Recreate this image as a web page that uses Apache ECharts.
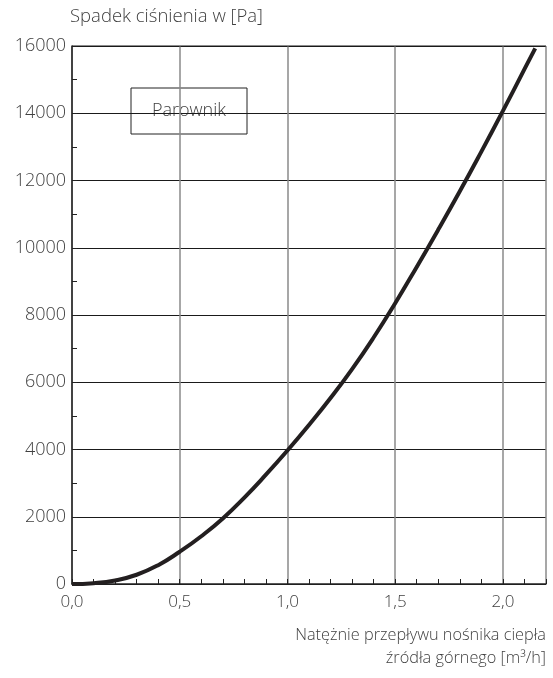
<!DOCTYPE html>
<html style="height: 100%">
<head>
    <meta charset="UTF-8">
    <script src="https://cdn.jsdelivr.net/npm/echarts@6/dist/echarts.min.js"></script>
</head>
<body style="height: 100%; margin: 0; background: #fff">
    <div id="main" style="width: 553px; height: 678px;"></div>
    <script type="text/javascript">
        // przepływ [m3/h] i spadek ciśnienia [Pa]
        var flow = [0, 0.1, 0.2, 0.3, 0.4, 0.5, 0.6, 0.7, 0.8, 0.9, 1.0, 1.1, 1.2, 1.3, 1.4, 1.5, 1.6, 1.7, 1.8, 1.9, 2.0, 2.1, 2.15];
        var pressureDrop = [0, 25, 105, 275, 560, 960, 1420, 1950, 2570, 3250, 3970, 4730, 5530, 6390, 7330, 8350, 9430, 10540, 11680, 12860, 14070, 15310, 15930];
        var yTicks = ['0', '2000', '4000', '6000', '8000', '10000', '12000', '14000', '16000'];
        var xTicks = ['0,0', '0,5', '1,0', '1,5', '2,0'];

        var yTitle = 'Spadek ciśnienia w [Pa]';
        var xTitle = ['Natężnie przepływu nośnika ciepła', 'źródła górnego [m³/h]'];
        var boxLabel = 'Parownik';

        var font = '"Open Sans", "Noto Sans", sans-serif';
        var textColor = '#404040';

        var myChart = echarts.init(document.getElementById('main'));

        var points = flow.map(function (x, i) { return [x, pressureDrop[i]]; });

        var option = {
            backgroundColor: '#fff',
            animation: false,
            grid: { left: 72, right: 7, top: 46, bottom: 94, containLabel: false },
            xAxis: [{
                type: 'value', min: 0, max: 2.2, interval: 0.5,
                axisLine: { show: true, lineStyle: { color: '#222', width: 1.5 } },
                axisTick: { show: false },
                axisLabel: {
                    margin: 10, fontSize: 17, color: textColor, fontFamily: font, fontWeight: 300,
                    showMaxLabel: false,
                    formatter: function (v) {
                        var k = Math.round(v / 0.5);
                        return Math.abs(v - k * 0.5) < 1e-6 ? xTicks[k] : '';
                    }
                },
                splitLine: { show: true, lineStyle: { color: '#8a8a8a', width: 1.5 } }
            }, {
                // drobne podziałki co 0.1
                type: 'value', min: 0, max: 2.2, interval: 0.1, position: 'bottom',
                axisLine: { show: false },
                axisTick: { show: true, inside: true, length: 5, lineStyle: { color: '#222', width: 1 } },
                axisLabel: { show: false },
                splitLine: { show: false }
            }],
            yAxis: [{
                type: 'value', min: 0, max: 16000, interval: 2000,
                axisLine: { show: true, lineStyle: { color: '#222', width: 1.5 } },
                axisTick: { show: false },
                axisLabel: {
                    margin: 6, fontSize: 18, color: textColor, fontFamily: font, fontWeight: 300,
                    formatter: function (v) { return yTicks[Math.round(v / 2000)]; }
                },
                splitLine: { show: true, lineStyle: { color: '#1a1a1a', width: 1 } }
            }, {
                type: 'value', min: 0, max: 16000, interval: 1000, position: 'left',
                axisLine: { show: false },
                axisTick: { show: true, inside: true, length: 5, lineStyle: { color: '#222', width: 1 } },
                axisLabel: { show: false },
                splitLine: { show: false }
            }],
            graphic: [
                {
                    type: 'text', x: 70, y: 17,
                    style: { text: yTitle, fontSize: 18.5, fill: textColor, fontFamily: font, fontWeight: 300,
                             align: 'left', verticalAlign: 'middle' }
                },
                {
                    type: 'text', x: 546, y: 635,
                    style: { text: xTitle[0], fontSize: 16.3, fill: textColor, fontFamily: font, fontWeight: 300,
                             align: 'right', verticalAlign: 'middle' }
                },
                {
                    type: 'text', x: 546, y: 658,
                    style: { text: xTitle[1], fontSize: 16.3, fill: textColor, fontFamily: font, fontWeight: 300,
                             align: 'right', verticalAlign: 'middle' }
                },
                {
                    type: 'group', x: 131, y: 88, z: 100,
                    children: [
                        { type: 'rect', shape: { x: 0, y: 0, width: 116, height: 46 },
                          style: { fill: '#fff', stroke: '#222', lineWidth: 1 } },
                        { type: 'text', x: 58, y: 23,
                          style: { text: boxLabel, fontSize: 18, fill: textColor, fontFamily: font, fontWeight: 300,
                                   align: 'center', verticalAlign: 'middle' } }
                    ]
                },
                {
                    // górna krawędź ramki
                    type: 'rect', x: 72, y: 45.5, z: 50,
                    shape: { width: 474, height: 1 }, style: { fill: '#1a1a1a' }
                }
            ],
            series: [{
                type: 'line',
                xAxisIndex: 0, yAxisIndex: 0,
                data: points,
                smooth: 0.5,
                symbol: 'none',
                lineStyle: { color: '#231f20', width: 4 },
                z: 10
            }]
        };

        myChart.setOption(option);
    </script>
</body>
</html>
